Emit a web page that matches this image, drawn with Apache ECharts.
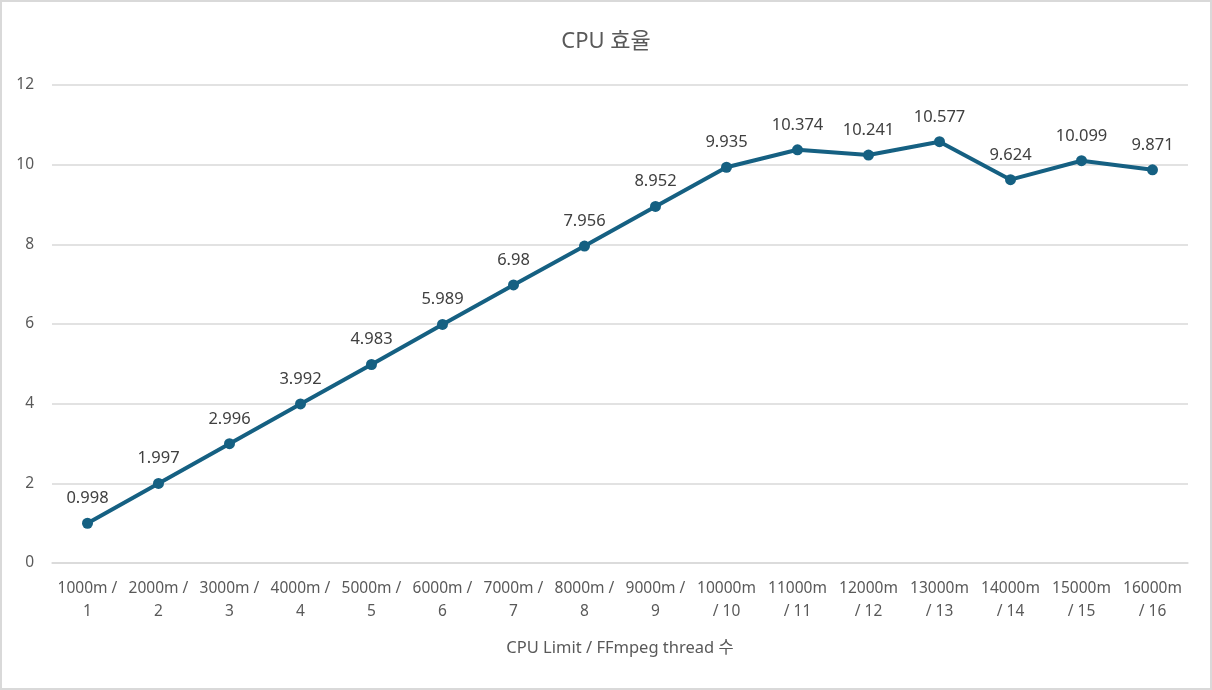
<!DOCTYPE html>
<html><head><meta charset="utf-8">
<script src="https://cdn.jsdelivr.net/npm/echarts@6/dist/echarts.min.js"></script>
<style>
html,body{margin:0;padding:0;background:#fff;}
#wrap{position:absolute;left:0;top:0;width:1208px;height:686px;border:2px solid #d9d9d9;}
#c{width:1208px;height:686px;}
</style></head>
<body><div id="wrap"><div id="c"></div></div>
<script>
const titleText = "CPU 효율";
const xAxisName = "CPU Limit / FFmpeg thread 수";
const categories = ["1000m /\n1","2000m /\n2","3000m /\n3","4000m /\n4","5000m /\n5","6000m /\n6","7000m /\n7","8000m /\n8","9000m /\n9","10000m\n/ 10","11000m\n/ 11","12000m\n/ 12","13000m\n/ 13","14000m\n/ 14","15000m\n/ 15","16000m\n/ 16"];
const efficiency = [0.998,1.997,2.996,3.992,4.983,5.989,6.98,7.956,8.952,9.935,10.374,10.241,10.577,9.624,10.099,9.871];
const yTicks = {min:0, max:12, interval:2};

const FONT = "'Noto Sans','Noto Sans CJK KR',sans-serif";
const chart = echarts.init(document.getElementById('c'));
chart.setOption({
  animation:false,
  textStyle:{fontFamily:FONT},
  title:{text:titleText,left:'center',top:24,textStyle:{fontFamily:FONT,fontSize:22,fontWeight:'normal',color:'#595959'}},
  grid:{left:50,right:22,top:83,bottom:125,containLabel:false},
  xAxis:{type:'category',data:categories,boundaryGap:true,
    name:xAxisName,nameLocation:'middle',nameGap:77,
    nameTextStyle:{fontFamily:FONT,fontSize:16.5,color:'#595959'},
    axisLine:{show:true,lineStyle:{color:'#d9d9d9',width:1.5}},
    axisTick:{show:false},
    axisLabel:{interval:0,fontSize:15.5,color:'#595959',lineHeight:23,margin:14,fontFamily:FONT}},
  yAxis:{type:'value',min:yTicks.min,max:yTicks.max,interval:yTicks.interval,
    axisLine:{show:false},axisTick:{show:false},
    splitLine:{lineStyle:{color:'#d9d9d9',width:1.5}},
    axisLabel:{fontSize:15.5,color:'#595959',margin:18,fontFamily:FONT}},
  series:[{type:'line',data:efficiency,
    lineStyle:{color:'#156082',width:4},
    itemStyle:{color:'#156082'},
    symbol:'circle',symbolSize:11,
    label:{show:true,position:'top',distance:11,fontSize:16.5,color:'#404040',fontFamily:FONT}}]
});
</script></body></html>
